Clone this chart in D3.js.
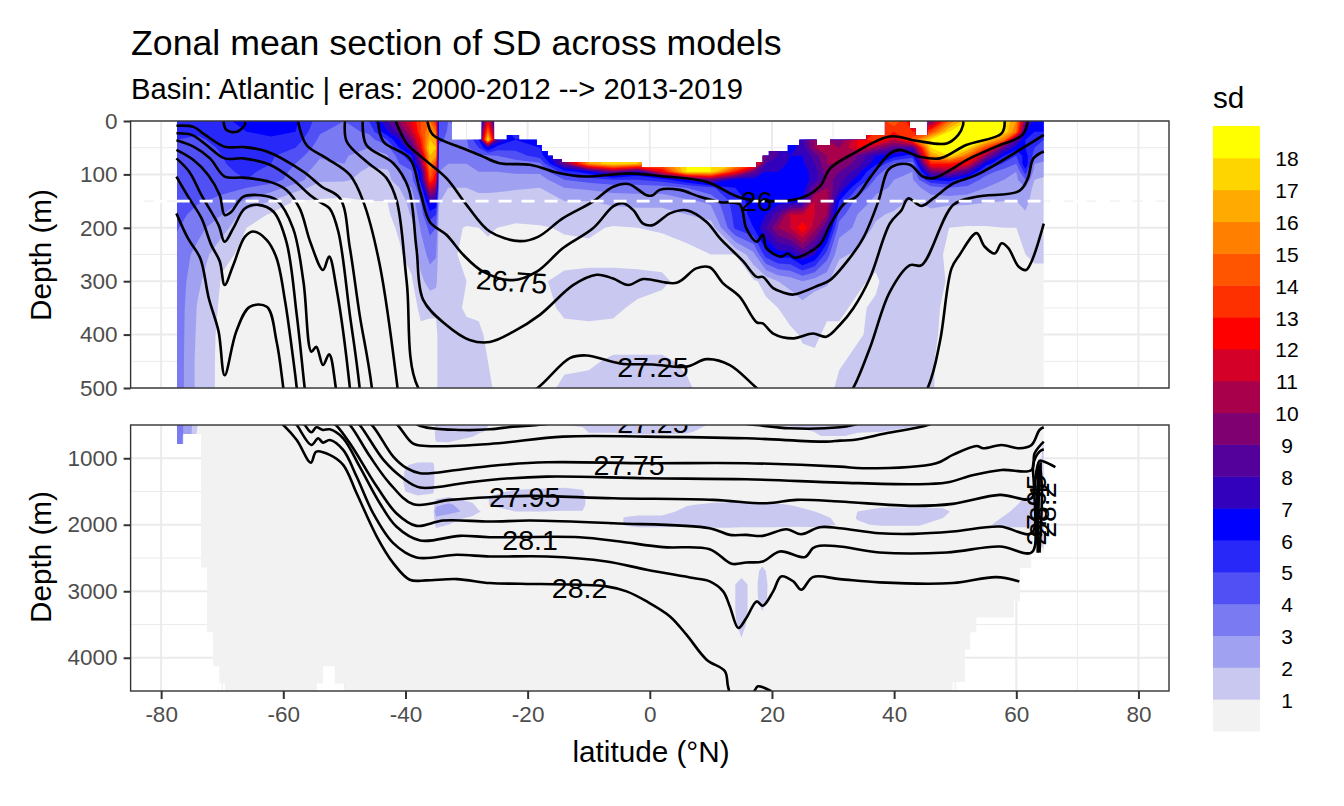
<!DOCTYPE html>
<html>
<head>
<meta charset="utf-8">
<script src="https://cdn.jsdelivr.net/npm/d3@7"></script>
<style>
  html, body { margin: 0; padding: 0; background: #fff; }
  text { font-family: "Liberation Sans", Arial, sans-serif; }
</style>
</head>
<body>
<div id="chart"></div>
<script>
// sd bands, lowest first
const sdColors = ["#f2f2f2", "#c8c8f0", "#a1a1f1", "#7a7af2", "#5050f5", "#2828f8", "#0000ff", "#3300bb", "#54009b", "#7f0070",
  "#a8004a", "#d40028", "#ff0000", "#ff3000", "#ff5500", "#ff8000", "#ffaa00", "#ffd500", "#ffff00"];
const sdLabels = d3.range(1, 19);

const xTicks = [-80, -60, -40, -20, 0, 20, 40, 60, 80];
const xMinor = [-70, -50, -30, -10, 10, 30, 50, 70];
const upperTicks = [0, 100, 200, 300, 400, 500];
const upperMinor = [50, 150, 250, 350, 450];
const lowerTicks = [1000, 2000, 3000, 4000];
const lowerMinor = [1500, 2500, 3500];

// upper panel grid: one row of sd per latitude, one value per depth
const upperDepth = [0, 20, 35, 50, 65, 80, 95, 110, 125, 150, 175, 200, 250, 300, 350, 400, 450, 500];
const upperLat = [-77.5, -74, -70, -66, -62, -58, -54, -50, -46, -43, -41, -39, -37.5, -36, -35, -34.5, -33, -30, -28, -26.5, -25, -22, -18, -14, -10, -6, -2, 2, 6, 10, 14, 17, 19, 21, 23, 25, 27, 29, 31, 34, 37, 40, 43, 46, 49, 52, 55, 58, 60, 61.5, 63, 64.5];
const upperSd = [
  [5.3, 5.1, 5, 4.9, 4.8, 4.7, 4.6, 4.6, 4.6, 4.5, 4.3, 4.1, 3.6, 3.7, 3.7, 3.7, 3.7, 3.7],
  [5.3, 5.1, 4.9, 4.7, 4.6, 4.5, 4.4, 4.3, 4.2, 4.1, 3.7, 3.3, 2.7, 2.2, 1.9, 1.8, 1.7, 1.7],
  [5.8, 5.4, 5.2, 5.1, 5, 4.9, 4.8, 4.6, 4.2, 3.8, 3, 2.4, 1.2, .9, .8, .7, .7, .7],
  [6.3, 6, 5.7, 5.5, 5.5, 5.5, 5.2, 5, 4, 2.8, 1.5, 1, .8, .7, .6, .6, .6, .6],
  [6.5, 6.3, 5.8, 5.3, 5.1, 5, 4.7, 4.5, 3.5, 2, .9, .7, .6, .6, .6, .6, .6, .6],
  [6.2, 6, 5.5, 5, 4.5, 4, 3.7, 3.5, 2.5, .95, .8, .7, .6, .6, .6, .6, .6, .6],
  [4.5, 4.1, 3.8, 3.5, 3.1, 2.8, 2.4, 2.2, 1.5, .9, .7, .6, .6, .6, .6, .6, .6, .6],
  [4, 3.6, 3.4, 3.2, 3.1, 3, 2.6, 2.2, 1.3, .9, .7, .6, .6, .6, .6, .6, .6, .6],
  [5, 4.2, 3.5, 3, 2.5, 2.2, 1.7, 1.5, 1.2, 1, .8, .7, .6, .6, .6, .6, .6, .6],
  [8, 6.8, 5, 3.5, 2.9, 2.5, 1.8, 1.6, 1.3, 1, .9, .8, .7, .7, .7, .7, .7, .7],
  [10, 8.5, 7, 6, 4.5, 4, 3, 2.8, 2, 1.5, 1.3, 1.1, .9, .8, .8, .8, .8, .8],
  [12, 11, 9.5, 8, 6, 5, 3.8, 3.6, 3, 2.4, 2.1, 1.7, 1.3, .9, .8, .8, .8, .8],
  [14, 14, 13, 12, 10, 9, 7, 6.5, 5, 4, 3.5, 3.1, 2.5, 1.7, 1.1, .9, .9, .9],
  [15, 16, 17, 18, 17, 16, 15, 14, 11.5, 7.5, 5.5, 4.3, 3.3, 2.5, 1.1, .85, .85, .85],
  [13, 15, 16, 17, 16, 14, 13, 12, 10, 7, 5, 4, 3.1, 2.3, 1.1, .85, .85, .85],
  [5, 4.5, 4.2, 3.8, 3.4, 3.2, 3, 3, 2.8, 2.1, 1.8, 1.5, 1.3, 1.2, 1.2, 1.2, 1.2, 1.2],
  [4, 3.9, 3.8, 3.2, 3.1, 3, 2.8, 2.7, 2, 1.5, 1.3, 1.2, 1.1, 1.1, 1.15, 1.2, 1.2, 1.2],
  [4, 4, 3.9, 3.8, 3.4, 3, 2.8, 2.7, 2, 1.6, 1.3, .95, .9, 1, .95, 1.1, 1.2, 1.2],
  [5, 6, 6, 5, 3.8, 3.3, 3, 2.7, 2.2, 1.7, 1.3, 1, .9, 1, .95, 1.05, 1.15, 1.15],
  [12, 15, 18, 7, 3.8, 3.3, 3, 2.7, 2.2, 1.7, 1.3, 1.05, .9, .95, .95, .95, 1, 1.05],
  [6, 7, 8, 5.5, 4, 3.4, 3, 2.6, 2.2, 1.6, 1.2, 1, .9, .95, .95, .95, .95, .95],
  [5, 5.5, 6, 5.3, 4.5, 3.5, 3.1, 2.7, 2.1, 1.5, 1.1, .95, .9, .9, .8, .8, .8, .8],
  [5, 6, 6, 6, 5.5, 3.8, 3.2, 2.5, 2, 1.5, 1.2, .95, .85, .95, .8, .8, .85, .9],
  [9, 9, 9, 9, 9, 9, 5.5, 4, 3, 2, 1.4, 1.05, .85, 1.1, 1.1, .85, .95, 1.05],
  [16, 16, 16, 16, 16, 16, 6.5, 4.5, 3.2, 2, 1.5, 1.1, .85, 1.15, 1.1, .9, .95, 1.1],
  [18, 18, 18, 18, 18, 18, 9, 5, 3.4, 2.4, 1.3, .95, .8, 1.2, 1.1, .85, 1.05, 1.2],
  [17, 17, 17, 17, 17, 17, 7, 5, 3.4, 2.5, 1.5, 1, .75, 1.2, .9, .7, 1.1, 1.2],
  [15, 15, 15, 15, 15, 15, 12, 5.5, 3.5, 2.4, 1.6, 1.05, .8, 1.1, .8, .7, 1.1, 1.15],
  [18, 18, 18, 18, 18, 18, 18, 7, 4, 2.8, 2, 1.2, .85, .8, .7, .7, .9, 1.1],
  [18, 18, 18, 18, 18, 18, 18, 9, 4.8, 3.2, 2.5, 1.4, 1, .75, .7, .7, .7, .7],
  [17, 17, 17, 17, 17, 17, 13, 6.5, 6, 5.6, 5.4, 5.2, 1, .85, .7, .7, .7, .7],
  [14, 14, 14, 14, 14, 14, 9, 6.5, 6.5, 6.3, 6.3, 6, 2.7, .9, .75, .7, .7, .7],
  [9, 9, 9, 9, 9, 8, 7, 6.5, 6.5, 6.5, 7, 8, 5.5, 1.2, .85, .8, .8, .8],
  [8, 8, 8, 8, 8, 7.5, 7, 6.5, 6.3, 6.5, 8.5, 10, 6.5, 2, 1, .9, .8, .7],
  [6.5, 6.5, 6.5, 6.5, 7, 6.8, 6.5, 6.3, 6.1, 6.3, 11, 11, 6.5, 2.4, 1.2, .9, .85, .8],
  [8, 8, 8, 7.5, 7, 6.8, 6.5, 6.4, 6.3, 7, 11, 12.8, 8, 3, 1.6, 1.05, .9, .8],
  [10, 10, 10, 10, 8.5, 8, 7.5, 7.5, 9, 11, 11, 10.5, 7, 2.5, 1.2, 1.1, .9, .85],
  [10, 10, 10, 10, 10, 10, 9.5, 9.5, 10, 10.5, 10, 8, 4.5, 2.2, 1.1, .9, .85, .85],
  [9, 9, 9, 10, 10.5, 10, 9, 8.5, 8, 6, 4.5, 3.5, 2.2, 1.2, 1.05, .95, .95, 1.1],
  [12, 12, 12, 12, 9, 8.5, 7.5, 6.5, 5, 3.5, 3, 2.8, 1.8, 1.05, .95, .95, 1.1, 1.1],
  [13, 13, 14, 10, 7, 6.3, 4.5, 3.8, 3.2, 2.8, 2.2, 1.8, 1.1, .95, 1.05, 1.1, 1.1, 1.1],
  [15, 13, 11, 8.5, 6.5, 3.8, 3.1, 3, 2.9, 2.5, 1.8, 1.7, 1.2, 1.2, 1.2, 1.2, 1.2, 1.2],
  [12, 13, 14.5, 8, 5.5, 3.5, 3, 2.9, 2.6, 1.8, 1.6, 1.5, 1.3, 1.2, 1.2, 1.2, 1.2, 1.2],
  [9, 14, 18, 18, 16, 13, 9, 6, 3.5, 2.5, 1.6, 1.5, 1.2, 1.2, 1.1, 1.1, 1.05, 1.05],
  [15, 18, 18, 18, 18, 13, 10, 6.5, 4, 2.4, 1.2, 1, .9, .95, .9, .85, .8, .8],
  [18, 18, 18, 18, 15, 12, 8, 5, 3.7, 2.3, 1.3, .95, .9, .9, .9, .9, .9, .9],
  [18, 18, 18, 14, 10, 6.5, 4.5, 3.5, 3, 2.1, 1.3, .95, .9, .9, .9, .9, .9, .9],
  [18, 18, 15, 8.5, 6, 4.8, 3.5, 3, 2.7, 2, 1.1, 1, .9, .9, .9, .9, .9, .9],
  [16, 15, 8.5, 6.5, 5, 4, 3, 2.8, 2.5, 2, 1.2, 1, .9, .9, .9, .9, .9, .9],
  [9, 7, 6, 6, 6.5, 7, 5.5, 4, 3, 2.5, 1.8, 1.3, 1, .9, .9, .9, .9, .9],
  [6.5, 6, 5.5, 5, 4.5, 3, 2.5, 2, 1.6, 1.3, 1.2, 1.1, 1.05, .9, .9, .9, .9, .9],
  [7, 6, 5, 4.5, 3.5, 2.8, 2.2, 1.9, 1.5, 1.3, 1.2, 1.1, 1.05, .9, .85, .85, .85, .85],
];

// upper panel: where data starts below the surface (steps)
const upperMaskLat = [-77.4, -32.4, -27.5, -25.5, -23.4, -21.4, -18.5, -17.7, -16.7, -15.9, -14.4, -1.3, 17.5, 18.5, 19.5, 22.6, 24.5, 27.3, 29.5, 35.5, 38.5, 42.6, 43.5, 45.5, 64.5];
const upperMaskTop = [0, 35, 0, 35, 26, 35, 45, 56, 65, 71, 77, 86, 77, 65, 56, 45, 35, 45, 35, 26, 0, 14, 26, 0, 0];

// lower panel grid is nearly all below 1, so only the cells above the background are listed
const lowerDepth = [500, 600, 700, 800, 1000, 1100, 1200, 1350, 1500, 1600, 1700, 1800, 1900, 2000, 2100, 2300, 2500, 2700, 2900, 3100, 3300, 3500, 3700, 4000, 4500];
const lowerLat = [-77.5, -75.5, -74, -73, -41, -40, -38, -35.5, -35, -33, -31, -29, -28, -26, -22, -18, -14, -11, -10, -6, -4, -2, 2, 6, 10, 13, 15, 17, 18.4, 20, 24, 28, 32, 34, 38, 44, 48, 52, 56, 59, 62, 63.5, 64.5];
const lowerBackground = 0.5;
const lowerCells = [
  [500, -77.5, 3.5], [500, -75.5, 2.6], [500, -74, 1], [500, -35, 1.3], [500, -33, 1.5], [500, -31, 1.5], [500, -29, 1.5], [500, -28, 1.5], [500, -26, .9],
  [500, -14, 1], [500, -11, 1.2], [500, -10, 1.3], [500, -6, 1.5], [500, -4, 1.6], [500, -2, 1.6], [500, 2, 1.6], [500, 6, 1.5], [500, 10, .9],
  [500, 20, .9], [500, 24, 1.3], [500, 28, 1.5], [500, 32, 1.5], [500, 34, 1.5], [500, 38, 1.4], [500, 44, 1.1], [500, 48, .8],
  [600, -77.5, 3.5], [600, -75.5, 2.6], [600, -74, .8], [600, -35, 1.3], [600, -33, 1.5], [600, -31, 1.4], [600, -29, 1.3], [600, -28, 1.2], [600, -26, .7],
  [600, -10, 1.1], [600, -6, 1.1], [600, -4, 1.3], [600, -2, 1.3], [600, 2, 1.3], [600, 6, 1.2], [600, 28, 1.2], [600, 32, 1.2], [600, 34, 1.1], [600, 38, 1],
  [700, -77.5, 3.4], [700, -75.5, 2.6], [700, -35, 1.2], [700, -33, 1.3], [700, -31, 1.1], [700, -29, .9], [700, 28, .9], [700, 32, .9],
  [800, -77.5, 3.4], [800, -75.5, 2.6], [800, -35, .8], [800, -33, .8],
  [800, 64.5, 1.1], [1000, 64.5, 1.3], [1100, 64.5, 1.3], [1200, 64.5, 1.3], [1350, 64.5, 1.3], [1500, 64.5, 1.3], [1600, 64.5, 1.3], [1700, 64.5, 1.3],
  [1800, 64.5, 1.3], [1900, 64.5, 1.3], [2000, 64.5, 1.3], [2100, 64.5, 1.3], [2300, 64.5, 1.3],
  [1100, -40, .9], [1100, -38, 1.3], [1100, -35.5, 1.3], [1200, -40, 1.1], [1200, -38, 1.4], [1200, -35.5, 1.4], [1350, -40, 1.3], [1350, -38, 1.4], [1350, -35.5, 1.4],
  [1500, -40, 1], [1500, -38, 1.3], [1500, -35.5, 1.2], [1600, -38, .8],
  [1600, -35, .9], [1600, -33, 1.1], [1600, -31, .9],
  [1700, -35, 1.6], [1700, -33, 2.3], [1700, -31, 1.6], [1700, -29, 1.2],
  [1800, -35, 2.9], [1800, -33, 2.3], [1800, -31, 2], [1800, -29, 1.4], [1800, -28, 1.1],
  [1900, -35, 1.7], [1900, -33, 1.6], [1900, -31, 1.1], [1900, -29, .8],
  [2000, -35, 1.2], [2000, -33, 1], [2100, -35, .8],
  [1500, -26, .8], [1500, -22, 1.1], [1500, -18, 1.2], [1500, -14, 1.3], [1500, -11, 1.1],
  [1600, -26, 1.1], [1600, -22, 1.4], [1600, -18, 1.5], [1600, -14, 1.5], [1600, -11, 1.4],
  [1700, -26, 1.1], [1700, -22, 1.4], [1700, -18, 1.5], [1700, -14, 1.5], [1700, -11, 1.4],
  [1800, -22, 1], [1800, -18, 1], [1800, -14, .95], [1800, -11, .95],
  [1700, 6, .9], [1700, 10, 1.2], [1700, 13, 1.3], [1700, 15, 1.3], [1700, 17, 1.3], [1700, 18.4, 1.3], [1700, 20, 1.2], [1700, 24, .9],
  [1800, 6, 1.4], [1800, 10, 1.4], [1800, 13, 1.4], [1800, 15, 1.4], [1800, 17, 1.4], [1800, 18.4, 1.4], [1800, 20, 1.4], [1800, 24, 1.3], [1800, 28, .9],
  [1900, -4, 1.1], [1900, -2, 1.3], [1900, 2, 1.3], [1900, 6, 1.4], [1900, 10, 1.4], [1900, 13, 1.4], [1900, 15, 1.4], [1900, 17, 1.4], [1900, 18.4, 1.4], [1900, 20, 1.4], [1900, 24, 1.4], [1900, 28, 1.2], [1900, 32, .7],
  [2000, -4, 1.1], [2000, -2, 1.3], [2000, 2, 1.3], [2000, 6, 1.2], [2000, 10, 1.4], [2000, 13, 1.4], [2000, 15, 1.3], [2000, 17, 1.3], [2000, 18.4, 1.3], [2000, 20, 1.3], [2000, 24, 1.2], [2000, 28, 1.3], [2000, 32, .8],
  [1700, 38, .8], [1700, 44, .8], [1700, 48, .8],
  [1800, 34, 1], [1800, 38, 1.3], [1800, 44, 1.3], [1800, 48, 1.2], [1900, 34, 1.05], [1900, 38, 1.4], [1900, 44, 1.4], [1900, 48, 1], [2000, 34, .9], [2000, 38, 1.1], [2000, 44, 1.1],
  [1600, 62, 1.2], [1600, 63.5, 1.3], [1700, 59, .8], [1700, 62, 1.3], [1700, 63.5, 1.3], [1800, 59, 1], [1800, 62, 1.4], [1800, 63.5, 1.3],
  [1900, 56, .8], [1900, 59, 1.2], [1900, 62, 1.4], [1900, 63.5, 1.3], [2000, 56, 1], [2000, 59, 1.3], [2000, 62, 1.3], [2000, 63.5, 1.3],
  [2900, 15, 1.5], [3100, 15, 1.5], [3300, 15, 1.5], [3500, 15, 1.3], [3700, 15, 1],
  [2700, 18.4, 1.3], [2900, 18.4, 1.6], [3100, 18.4, 1.5], [3300, 18.4, 1],
];

// lower panel: extent of the data (steps)
const lowerMaskLat = [-77.4, -76.4, -73.5, -72.5, -71.5, -70.5, -69.6, -54.5, -53.5, -51.6, -49.9, 49.6, 51.6, 52.5, 53.5, 59.6, 60.6, 62.5, 64.5];
const lowerMaskBottom = [785, 635, 2647, 3620, 4130, 4390, 4500, 4390, 4130, 4390, 4500, 4370, 3880, 3620, 3400, 3150, 2650, 2420, 2420];

// isopycnals as [latitude, depth]
const iso26 = [[-36.4, 0], [-35.5, 26], [-30.6, 51], [-27.8, 64], [-24.6, 79], [-19.6, 82], [-14.7, 98], [-10.9, 104], [-3.3, 98], [1.6, 103], [9.3, 114], [15.3, 145], [24.5, 145], [27.8, 123], [29.5, 89], [33.3, 61], [39.3, 29], [43.6, 37], [48.6, 42], [50.5, 26], [51.3, 7], [51.3, 0]];
const iso26Loop = [[-69.8, 0], [-69.3, 17], [-67.6, 20], [-66.3, 7], [-66.3, 0]];
const iso265 = [[-41.6, 0], [-39.8, 42], [-37.1, 70], [-33.3, 107], [-30, 157], [-26.2, 207], [-21.3, 225], [-18.3, 217], [-14.2, 182], [-9.3, 151], [-6, 123], [-3.5, 118], [-.5, 139], [.5, 139], [1.6, 129], [4.9, 129], [8.2, 142], [11.5, 152], [14.7, 156], [15.8, 201], [17.5, 226], [18.5, 213], [19.1, 238], [21.5, 254], [22.6, 248], [23.7, 256], [27.8, 232], [29.5, 195], [31.9, 154], [33.8, 142], [36, 107], [39.3, 61], [40.9, 54], [44.2, 67], [47.5, 70], [51.8, 45], [57.6, 23], [58.1, 0]];
const iso2675 = [[-44.5, 0], [-43.6, 39], [-39.3, 70], [-37.6, 132], [-36, 189], [-33.3, 213], [-30.5, 251], [-27.3, 282], [-22.4, 298], [-18.5, 282], [-14.2, 238], [-9.3, 201], [-6, 160], [-4.4, 154], [-2.7, 167], [-1.1, 192], [.5, 195], [3.3, 173], [6, 167], [9.3, 189], [11.5, 220], [15.3, 263], [17.5, 292], [18.5, 292], [20.2, 313], [21.8, 321], [23.5, 325], [27.8, 307], [29.5, 298], [32.7, 257], [34.9, 220], [37.4, 151], [39, 92], [40.4, 82], [42.6, 82], [44.7, 104], [46.4, 107], [52.4, 70], [56.7, 48], [61, 26], [61.9, 0]];
const iso27 = [[-47, 0], [-46.4, 45], [-42, 79], [-39.5, 126], [-38.2, 239], [-37.1, 335], [-33.3, 382], [-29.5, 410], [-26.2, 414], [-22.4, 395], [-18, 363], [-12.5, 307], [-8.7, 288], [-6, 295], [-3.5, 307], [-1.1, 296], [4.4, 303], [7.6, 276], [9.8, 274], [12, 304], [14.7, 329], [17.5, 377], [18.5, 379], [20.2, 398], [23.5, 407], [26.7, 398], [28.9, 404], [31.1, 382], [33.3, 351], [36, 295], [39.3, 192], [41.2, 167], [42.3, 145], [44.5, 159], [46.4, 145], [49.7, 117], [53.5, 101], [61, 51], [64.5, 26]];
const iso2725 = [[-49.9, 0], [-49.6, 39], [-46.4, 76], [-43.1, 107], [-41.4, 151], [-39.8, 301], [-37.9, 500], [-30.6, 575], [-26.2, 565], [-22.4, 525], [-18.4, 500], [-13.1, 444], [-10.4, 439], [-4.9, 454], [.5, 456], [6, 460], [9.3, 446], [13.1, 457], [17.5, 500], [22.9, 550], [31.1, 535], [33.3, 500], [36, 426], [39.3, 320], [42.6, 270], [44.5, 270], [49.7, 157], [53.5, 142], [60.5, 131], [61.9, 107], [62.8, 70], [64.5, 57]];
const iso275 = [[-57.6, 0], [-56.2, 45], [-52.9, 70], [-49.1, 101], [-46.9, 151], [-44.2, 270], [-41.3, 500], [-38.8, 775], [-36.6, 815], [-26.2, 785], [-14.2, 675], [-.5, 675], [15.8, 700], [28.9, 750], [31.1, 735], [33.3, 725], [38.7, 625], [45.5, 500], [47.5, 413], [49.4, 276], [50.7, 251], [53.5, 210], [54.8, 235], [56.5, 248], [57.6, 229], [58.7, 238], [60.4, 273], [61.6, 279], [62.5, 263], [64.5, 192]];
const iso2775 = [[-77.5, 9], [-74.7, 11], [-72.8, 26], [-69.6, 48], [-66.3, 49], [-62.7, 57], [-56.7, 95], [-53.7, 123], [-50.7, 145], [-49.1, 238], [-47.5, 363], [-45.5, 500], [-42, 975], [-39.8, 1150], [-37.6, 1226], [-31.6, 1176], [-26.2, 1116], [-16.9, 1061], [-.5, 1075], [15.8, 1075], [31.1, 1126], [34.9, 1151], [46.9, 1075], [49.6, 950], [53.5, 815], [54.6, 850], [57.6, 800], [60.5, 850], [62.5, 800], [63.8, 575], [64.5, 535]];
const iso2785 = [[-77.5, 23], [-75, 26], [-72.6, 45], [-69.6, 70], [-66.6, 70], [-62.2, 82], [-58.4, 110], [-55.6, 139], [-53.7, 154], [-52.4, 164], [-51, 207], [-49.1, 363], [-47.5, 500], [-43.6, 1025], [-40.4, 1301], [-37.6, 1441], [-30.6, 1376], [-26.2, 1326], [-16.9, 1276], [-.5, 1301], [15.8, 1316], [31.1, 1366], [43.1, 1391], [48.6, 1366], [53, 1251], [57.6, 1176], [62.5, 1176], [63, 925], [64.5, 750]];
const iso2795 = [[-77.5, 36], [-74.7, 48], [-72, 70], [-69.6, 104], [-66.6, 106], [-62.2, 114], [-59.5, 129], [-57.3, 164], [-55.6, 226], [-53.5, 279], [-52.5, 254], [-51.3, 313], [-49.1, 500], [-45.8, 975], [-42.6, 1376], [-38.7, 1691], [-32.7, 1626], [-26.2, 1586], [-19.6, 1566], [-6, 1601], [10.4, 1626], [19.1, 1676], [24, 1626], [31.1, 1651], [43.1, 1716], [49.6, 1686], [57.3, 1551], [62.5, 1601], [62.8, 1075], [63.8, 900], [64.5, 865]];
const iso28 = [[-77.5, 54], [-74.7, 73], [-72.3, 101], [-70.4, 139], [-69.6, 176], [-68.5, 170], [-66.6, 142], [-63.8, 139], [-61.1, 148], [-58.4, 201], [-56.7, 301], [-55.4, 432], [-54.6, 423], [-53.5, 457], [-52.5, 437], [-51.4, 500], [-49.1, 775], [-44.7, 1426], [-41.5, 1826], [-38.2, 2017], [-33.8, 1937], [-26.2, 1952], [-19.6, 1937], [-6, 1977], [9.8, 2052], [13.1, 2152], [15.8, 2152], [18.5, 2167], [22.4, 2067], [24.8, 2142], [27.8, 2037], [31.1, 2052], [37.6, 2127], [43.1, 2137], [49.6, 2102], [57.3, 2027], [62.5, 2127], [63, 1400], [63.8, 1040], [64.5, 1050], [66.4, 1135]];
const iso281 = [[-77.5, 70], [-75.4, 95], [-73.4, 139], [-70.6, 195], [-69.6, 226], [-68.2, 201], [-66.3, 164], [-64.1, 157], [-61.6, 170], [-59.5, 226], [-57.8, 363], [-56.5, 500], [-55.4, 610], [-54.6, 535], [-53.5, 575], [-52.4, 565], [-50.2, 700], [-47.5, 1125], [-44.2, 1676], [-41.5, 2027], [-37.6, 2237], [-31.1, 2167], [-26.2, 2187], [-11.5, 2187], [-4.9, 2252], [2.2, 2337], [9.8, 2367], [13.4, 2587], [15.8, 2567], [18.5, 2552], [21.3, 2402], [25.4, 2487], [26.7, 2352], [27.8, 2317], [31.1, 2327], [37.6, 2417], [48.6, 2417], [57.3, 2327], [62.5, 2417], [63.2, 1900], [63.6, 1075]];
const iso2815 = [[-77.5, 104], [-75.4, 145], [-73.4, 182], [-71.8, 232], [-70.4, 263], [-69.6, 307], [-68.2, 270], [-66.3, 217], [-64.9, 207], [-62.7, 223], [-61.1, 257], [-59.7, 338], [-58.4, 444], [-57.8, 500], [-55.4, 800], [-54.3, 700], [-53.5, 765], [-52.4, 725], [-50.2, 875], [-48, 1275], [-45.3, 1826], [-42, 2277], [-38.2, 2492], [-31.6, 2452], [-26.2, 2477], [-16.9, 2477], [-7.1, 2552], [-.5, 2677], [7.1, 2802], [9.8, 2852], [12, 3002], [13.1, 3228], [14.5, 3553], [15.8, 3403], [17.5, 3153], [18.5, 3218], [20.2, 3002], [21.5, 2777], [23.5, 2852], [24.8, 2977], [26.7, 2787], [31.1, 2817], [37.6, 2867], [49.6, 2877], [56.7, 2787], [60.5, 2852]];
const iso282 = [[-77.5, 173], [-75.6, 220], [-73.6, 257], [-72.2, 332], [-70.6, 394], [-69.6, 476], [-67.7, 394], [-65.5, 348], [-62.7, 348], [-61.1, 413], [-60, 500], [-57.8, 725], [-55.5, 1066], [-54.6, 900], [-52.4, 950], [-50.2, 1100], [-48, 1526], [-44.7, 2177], [-42, 2577], [-39.3, 2827], [-36.6, 2837], [-31.6, 2817], [-26.2, 2877], [-21.3, 2887], [-11.5, 2902], [-7.1, 2927], [-3.8, 3002], [-.5, 3153], [3.3, 3378], [6, 3653], [9.3, 4029], [12.3, 4204], [12.8, 4429], [13.4, 4579], [15.8, 4680], [17.2, 4489], [17.7, 4429], [19.9, 4504]];
const isoEndA = [[63.5, 2420], [63.7, 1500], [64, 1060]];
const isoEndB = [[63.8, 2420], [64.2, 1500], [63.9, 1100]];
const isoEndC = [[63.3, 2300], [63.6, 1700], [63.8, 1150]];
const isoLines = [iso26, iso26Loop, iso265, iso2675, iso27, iso2725, iso275, iso2775, iso2785, iso2795, iso28, iso281, iso2815, iso282, isoEndA, isoEndB, isoEndC];

// contour labels: text, latitude, depth, angle
const upperLabels = [["26", 17.5, 150, 0], ["26.75", -22.6, 300, 4], ["27.25", .5, 460, 0]];
const lowerLabels = [["27.25", .5, 460, 0], ["27.75", -3.4, 1100, 0], ["27.95", -20.5, 1580, 0], ["28.1", -19.6, 2227, 0], ["28.2", -11.5, 2947, 0],
  ["27.95", 63.2, 1780, -90], ["28.1", 63.6, 1780, -90], ["28.2", 64.8, 1780, -90]];

const width = 1344;
const height = 806;

const svg = d3.select("#chart").append("svg").attr("width", width).attr("height", height);

const x = d3.scaleLinear().domain([-85, 85]).range([130.6, 1169]);
const yUpper = d3.scaleLinear().domain([0, 500]).range([121, 388]);
const yLower = d3.scaleLinear().domain([500, 4500]).range([425, 691]);

// nested filled contours from one sd grid; a grid point i sits at contour coordinate i + 0.5
function drawBands(g, lats, depths, values, y) {
  const n = lats.length;
  const m = depths.length;
  const latOf = d3.scaleLinear().domain(d3.range(n)).range(lats).clamp(true);
  const depthOf = d3.scaleLinear().domain(d3.range(m)).range(depths).clamp(true);
  const path = d3.geoPath(d3.geoTransform({
    point(px, py) {
      this.stream.point(x(latOf(px - 0.5)), y(depthOf(py - 0.5)));
    },
  }));
  const bands = d3.contours().size([n, m]).thresholds(sdLabels)(values);
  g.selectAll(".band")
    .data(bands)
    .join("path")
    .attr("class", "band")
    .attr("d", path)
    .attr("fill", (d) => sdColors[d.value]);
}

function styleAxis(g) {
  g.select(".domain").remove();
  g.selectAll(".tick line").attr("stroke", "#333").attr("stroke-width", 2);
  g.selectAll(".tick text").attr("fill", "#4d4d4d").attr("font-size", 22.5).attr("font-family", "Liberation Sans");
}

function drawPanel(id, y, ticks, minor, maskPath, labels) {
  const [top, bottom] = y.range();
  const [left, right] = x.range();
  const panel = svg.append("g").attr("class", id);

  panel.append("rect").attr("x", left).attr("y", top)
    .attr("width", right - left).attr("height", bottom - top).attr("fill", "#fff");

  const grid = panel.append("g").attr("stroke", "#ebebeb");
  grid.selectAll(".minor-x").data(xMinor).join("line").attr("class", "minor-x").attr("x1", x).attr("x2", x).attr("y1", top).attr("y2", bottom).attr("stroke-width", 1);
  grid.selectAll(".major-x").data(xTicks).join("line").attr("class", "major-x").attr("x1", x).attr("x2", x).attr("y1", top).attr("y2", bottom).attr("stroke-width", 2);
  grid.selectAll(".minor-y").data(minor).join("line").attr("class", "minor-y").attr("y1", y).attr("y2", y).attr("x1", left).attr("x2", right).attr("stroke-width", 1);
  grid.selectAll(".major-y").data(ticks).join("line").attr("class", "major-y").attr("y1", y).attr("y2", y).attr("x1", left).attr("x2", right).attr("stroke-width", 2);

  svg.append("clipPath").attr("id", id + "-mask").append("path").attr("d", maskPath);
  svg.append("clipPath").attr("id", id + "-clip").append("rect").attr("x", left).attr("y", top)
    .attr("width", right - left).attr("height", bottom - top);

  const fills = panel.append("g").attr("clip-path", `url(#${id}-mask)`);
  fills.append("path").attr("d", maskPath).attr("fill", sdColors[0]);

  const lines = panel.append("g").attr("clip-path", `url(#${id}-clip)`);
  const line = d3.line().x((d) => x(d[0])).y((d) => y(d[1])).curve(d3.curveCatmullRom.alpha(0.5));
  lines.selectAll(".iso")
    .data(isoLines)
    .join("path")
    .attr("class", "iso")
    .attr("d", line)
    .attr("fill", "none")
    .attr("stroke", "#000")
    .attr("stroke-width", 2.6)
    .attr("stroke-linejoin", "round");

  // reference line at 150 m, upper panel only
  if (id === "upper") {
    lines.append("line")
      .attr("x1", left).attr("x2", right).attr("y1", y(150)).attr("y2", y(150))
      .attr("stroke", "#fff").attr("stroke-width", 2.6).attr("stroke-dasharray", "13 10");
  }

  lines.selectAll(".iso-label")
    .data(labels)
    .join("text")
    .attr("class", "iso-label")
    .attr("transform", (d) => `translate(${x(d[1])},${y(d[2])}) rotate(${d[3]})`)
    .attr("text-anchor", "middle")
    .attr("dy", "0.36em")
    .attr("font-size", 28.5)
    .attr("fill", "#000")
    .text((d) => d[0]);

  panel.append("rect").attr("x", left).attr("y", top)
    .attr("width", right - left).attr("height", bottom - top)
    .attr("fill", "none").attr("stroke", "#333").attr("stroke-width", 1.4);

  const yAxis = panel.append("g").attr("transform", `translate(${left},0)`)
    .call(d3.axisLeft(y).tickValues(ticks).tickFormat((d) => String(d)).tickSize(7).tickSizeOuter(0).tickPadding(6));
  styleAxis(yAxis);

  return fills;
}

const upperMask = d3.area().curve(d3.curveStepAfter)
  .x((d, i) => x(upperMaskLat[i]))
  .y0((d) => yUpper(d))
  .y1(yUpper(500))(upperMaskTop);

const lowerMask = d3.area().curve(d3.curveStepAfter)
  .x((d, i) => x(lowerMaskLat[i]))
  .y0(yLower(500))
  .y1((d) => yLower(d))(lowerMaskBottom);

const upperFills = drawPanel("upper", yUpper, upperTicks, upperMinor, upperMask, upperLabels);
const lowerFills = drawPanel("lower", yLower, lowerTicks, lowerMinor, lowerMask, lowerLabels);

// grids are stored by latitude, d3.contours wants them row by row
const upperValues = [];
upperDepth.forEach((d, j) => upperLat.forEach((lat, i) => upperValues.push(upperSd[i][j])));
drawBands(upperFills, upperLat, upperDepth, upperValues, yUpper);

const lowerValues = new Array(lowerLat.length * lowerDepth.length).fill(lowerBackground);
lowerCells.forEach(([depth, lat, sd]) => {
  lowerValues[lowerLat.indexOf(lat) + lowerDepth.indexOf(depth) * lowerLat.length] = sd;
});
drawBands(lowerFills, lowerLat, lowerDepth, lowerValues, yLower);

const xAxis = svg.append("g").attr("transform", `translate(0,${yLower.range()[1]})`)
  .call(d3.axisBottom(x).tickValues(xTicks).tickFormat((d) => String(d)).tickSize(8).tickSizeOuter(0).tickPadding(7));
styleAxis(xAxis);

function addText(str, tx, ty, size, anchor, rotate) {
  svg.append("text")
    .attr("transform", `translate(${tx},${ty}) rotate(${rotate || 0})`)
    .attr("text-anchor", anchor || "start")
    .attr("font-size", size)
    .attr("fill", "#000")
    .text(str);
}

addText("Zonal mean section of SD across models", 131, 55, 35.7);
addText("Basin: Atlantic | eras: 2000-2012 --> 2013-2019", 131, 99, 29.2);
addText("Depth (m)", 51, 255, 29.7, "middle", -90);
addText("Depth (m)", 51, 557, 29.7, "middle", -90);
addText("latitude (°N)", 651, 762, 29.7, "middle");
addText("sd", 1213, 108, 29.7);

// colour key
const legendY = d3.scaleLinear().domain([0, sdColors.length]).range([731, 126]);
svg.selectAll(".key")
  .data(sdColors)
  .join("rect")
  .attr("class", "key")
  .attr("x", 1213)
  .attr("width", 47)
  .attr("y", (d, i) => legendY(i + 1))
  .attr("height", (d, i) => legendY(i) - legendY(i + 1) + 0.5)
  .attr("fill", (d) => d);
svg.selectAll(".key-label")
  .data(sdLabels)
  .join("text")
  .attr("class", "key-label")
  .attr("x", 1287)
  .attr("y", (d) => legendY(d) + 1)
  .attr("dy", "0.36em")
  .attr("text-anchor", "middle")
  .attr("font-size", 21)
  .attr("fill", "#000")
  .text((d) => d);
</script>
</body>
</html>
